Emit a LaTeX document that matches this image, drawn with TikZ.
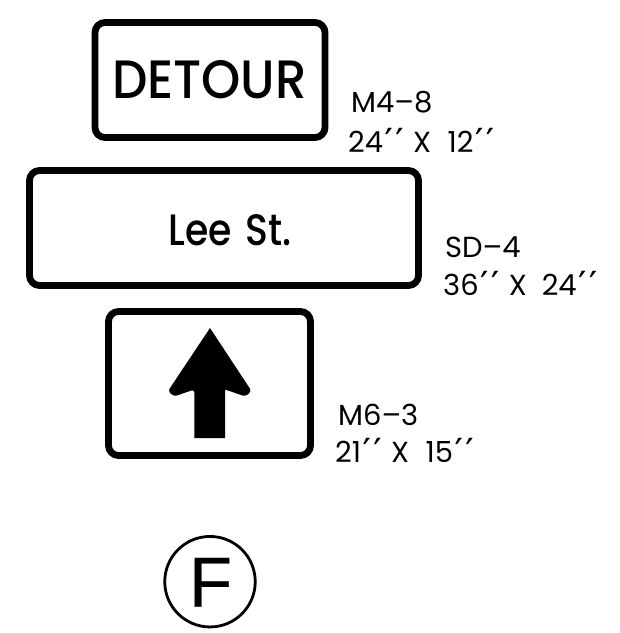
\documentclass[tikz,border=0pt]{standalone}
\usepackage{fontspec}
\setmainfont{Poppins}
\newfontfamily\hel[FakeBold=0.2]{Liberation Sans}
\newfontfamily\signfont[FakeStretch=0.925]{Poppins Medium}
\newfontfamily\leefont[FakeStretch=0.86]{Poppins Medium}
\newfontfamily\primefont[FakeBold=0.5]{DejaVu Sans}
\tikzset{
  frameline/.style={draw=black,line width=6.8pt,rounded corners=10pt,fill=white},
  signtext/.style={inner sep=0pt,anchor=base,text=black},
  labeltext/.style={inner sep=0pt,anchor=base west,text=black,font=\fontsize{29}{29}\selectfont}
}
\newcommand{\pr}{\kern0.06em{\primefont\fontsize{33}{33}\selectfont ′\kern0.1em′}\kern0.08em}
\begin{document}
\begin{tikzpicture}[x=1pt,y=-1pt]
\useasboundingbox (0,0) rectangle (620,633);
\fill[white] (0,0) rectangle (620,633);
\draw[frameline] (95,22.5) rectangle (325,137.5);
\draw[frameline] (29.5,170.5) rectangle (418.5,285.5);
\draw[frameline] (108.5,311.5) rectangle (310.5,455.5);
\node[signtext,font=\signfont\fontsize{54}{54}\selectfont] (detour) at (209.5,98) {DETOUR};
\node[signtext,font=\leefont\fontsize{44}{44}\selectfont] (lee) at (230,245) {Lee\hspace{0.3em}St.};
\fill[black,rounded corners=3pt] (210,328) -- (168,391) -- (174,396.5) -- (194.3,389.5) [sharp corners] -- (194.3,438) -- (225,438) -- (225,389.5) [rounded corners=3pt] -- (245.5,396.5) -- (251.5,391) [sharp corners] -- cycle;
\node[labeltext] (m48) at (351,112) {M4–8};
\node[labeltext] (m48s) at (348,152) {24\pr{} X\hspace{0.3em} 12\pr};
\node[labeltext] (sd4) at (445,257) {SD–4};
\node[labeltext] (sd4s) at (443,295) {36\pr{} X\hspace{0.25em} 24\pr};
\node[labeltext] (m63) at (338,425) {M6–3};
\node[labeltext] (m63s) at (335,462) {21\pr{} X\hspace{0.3em} 15\pr};
\node[draw=black,line width=2.8pt,circle,minimum size=90.5pt,inner sep=0pt] (fc) at (210,581.7) {};
\node[signtext,font=\hel\fontsize{71}{71}\selectfont] (f) at (210.5,606.7) {F};
\end{tikzpicture}
\end{document}
